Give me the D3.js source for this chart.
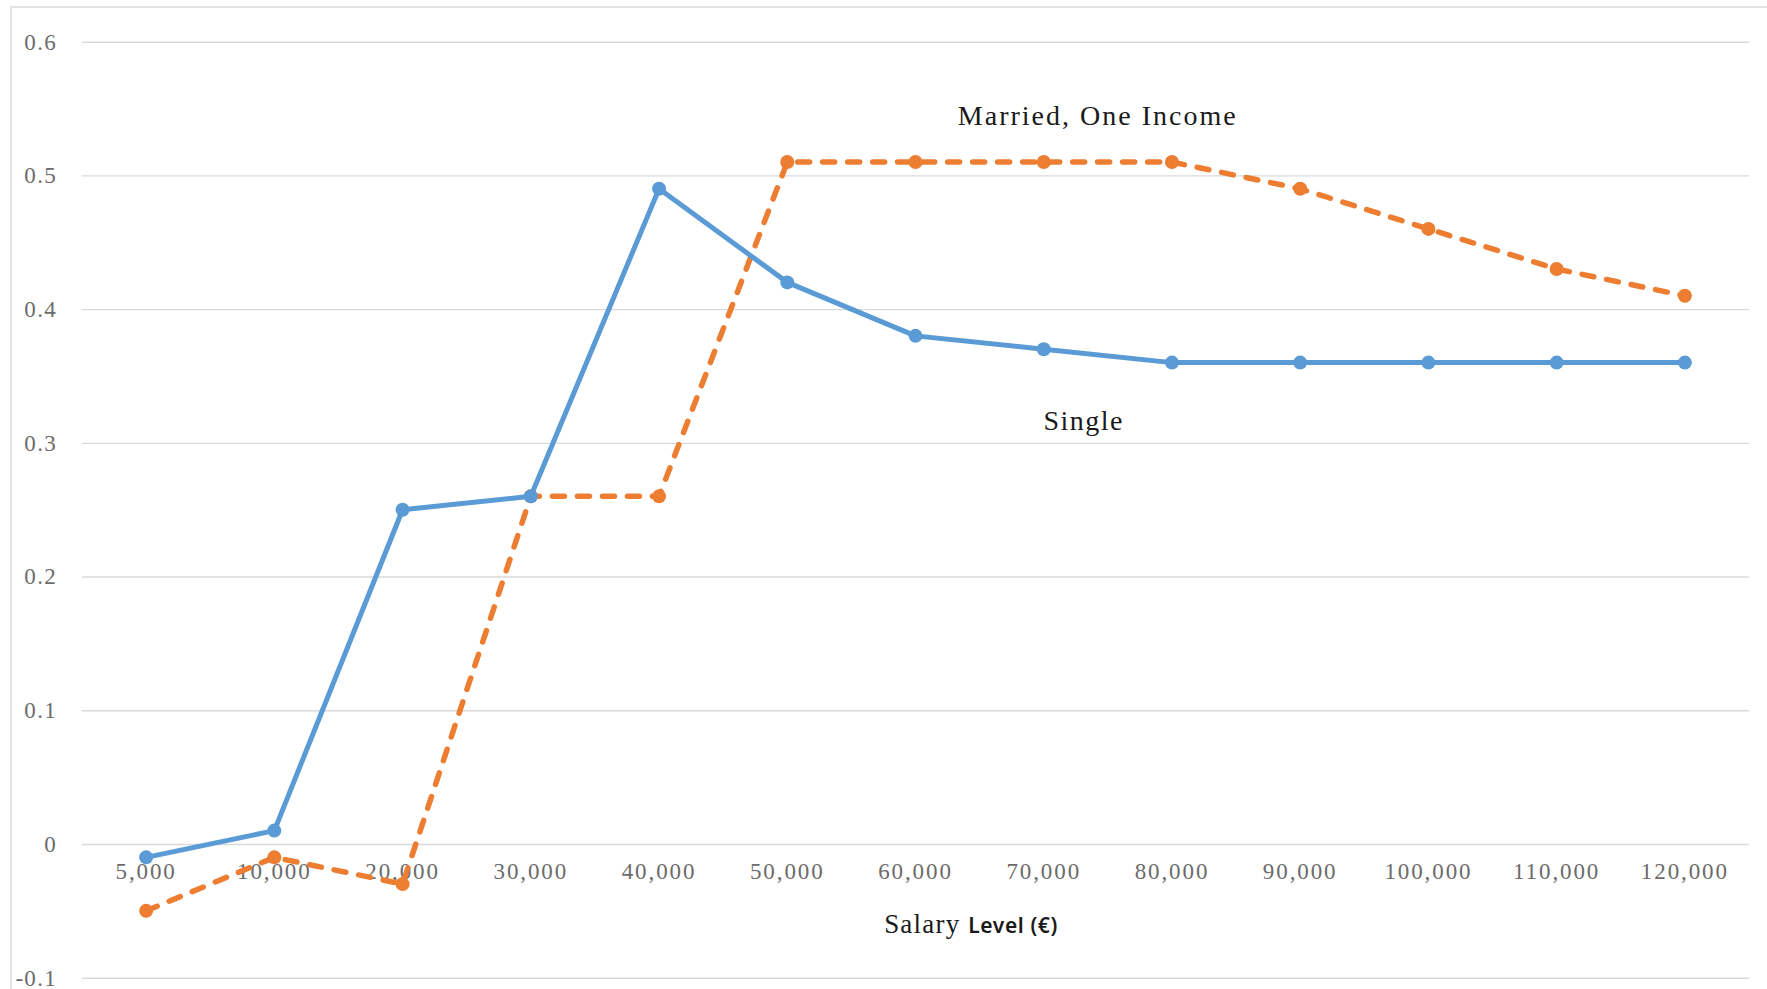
<!DOCTYPE html>
<html>
<head>
<meta charset="utf-8">
<script src="https://cdn.jsdelivr.net/npm/d3@7"></script>
<style>
  body { margin: 0; background: #fff; }
  svg { display: block; }
</style>
</head>
<body>
<div id="chart"></div>
<script>
// salary levels (x categories)
var salaries = ["5,000", "10,000", "20,000", "30,000", "40,000", "50,000", "60,000",
                "70,000", "80,000", "90,000", "100,000", "110,000", "120,000"]

// series values
var single = [-0.01, 0.01, 0.25, 0.26, 0.49, 0.42, 0.38, 0.37, 0.36, 0.36, 0.36, 0.36, 0.36]
var marriedOneIncome = [-0.05, -0.01, -0.03, 0.26, 0.26, 0.51, 0.51, 0.51, 0.51, 0.49, 0.46, 0.43, 0.41]

var yTicks = [-0.1, 0, 0.1, 0.2, 0.3, 0.4, 0.5, 0.6]
var yTickLabels = ["-0.1", "0", "0.1", "0.2", "0.3", "0.4", "0.5", "0.6"]

var W = 1767, H = 989
var plot = {left: 82, right: 1749, top: 41.7, bottom: 977.7}

var svg = d3.select("#chart")
    .append("svg")
    .attr("width", W)
    .attr("height", H)

// chart area border (only top / left visible in the crop)
svg.append("path")
    .attr("d", "M11," + H + "V7H" + W)
    .attr("fill", "none")
    .attr("stroke", "#d9d9d9")
    .attr("stroke-width", 1.5)

var x = d3.scaleBand()
    .domain(salaries)
    .range([plot.left, plot.right])

var y = d3.scaleLinear()
    .domain([-0.1, 0.6])
    .range([plot.bottom, plot.top])

var cx = function(i) { return x(salaries[i]) + x.bandwidth() / 2 }

// y axis + gridlines
var yAxis = svg.append("g")
    .attr("transform", "translate(" + plot.left + ",0)")
    .call(d3.axisLeft(y)
        .tickValues(yTicks)
        .tickSize(-(plot.right - plot.left))
        .tickPadding(25)
        .tickFormat(function(d, i) { return yTickLabels[i] }))

yAxis.select(".domain").remove()
yAxis.selectAll(".tick line")
    .attr("stroke", "#d9d9d9")
    .attr("stroke-width", 1.4)
yAxis.selectAll(".tick text")
    .attr("fill", "#6b6b6b")
    .style("font-family", "'Liberation Serif', serif")
    .style("font-size", "23px")
    .style("letter-spacing", "1.3px")

// x axis labels sit just under the zero line
var xAxis = svg.append("g")
    .attr("transform", "translate(0," + y(0) + ")")
    .call(d3.axisBottom(x).tickSize(0).tickPadding(19))

xAxis.select(".domain").remove()
xAxis.selectAll(".tick text")
    .attr("fill", "#6b6b6b")
    .style("font-family", "'Liberation Serif', serif")
    .style("font-size", "23px")
    .style("letter-spacing", "1.9px")

// axis title: mixed fonts like the original
var title = svg.append("text")
    .attr("x", 971)
    .attr("y", 933)
    .attr("text-anchor", "middle")
    .attr("fill", "#1a1a1a")
title.append("tspan")
    .style("font-family", "'Liberation Serif', serif")
    .style("font-size", "27px")
    .style("letter-spacing", "1.2px")
    .text("Salary ")
title.append("tspan")
    .style("font-family", "'Noto Sans', sans-serif")
    .style("font-size", "21px")
    .style("font-weight", 600)
    .style("letter-spacing", "0.6px")
    .text("Level (€)")

var line = d3.line()
    .x(function(d, i) { return cx(i) })
    .y(function(d) { return y(d) })

// married, one income: dashed orange
svg.append("path")
    .datum(marriedOneIncome)
    .attr("d", line)
    .attr("fill", "none")
    .attr("stroke", "#ed7d31")
    .attr("stroke-width", 5.5)
    .attr("stroke-linecap", "round")
    .attr("stroke-dasharray", "12,13")

svg.append("g")
    .selectAll("circle")
    .data(marriedOneIncome)
    .enter()
    .append("circle")
    .attr("cx", function(d, i) { return cx(i) })
    .attr("cy", function(d) { return y(d) })
    .attr("r", 7)
    .attr("fill", "#ed7d31")

// single: solid blue
svg.append("path")
    .datum(single)
    .attr("d", line)
    .attr("fill", "none")
    .attr("stroke", "#5b9bd5")
    .attr("stroke-width", 5)
    .attr("stroke-linejoin", "round")

svg.append("g")
    .selectAll("circle")
    .data(single)
    .enter()
    .append("circle")
    .attr("cx", function(d, i) { return cx(i) })
    .attr("cy", function(d) { return y(d) })
    .attr("r", 7)
    .attr("fill", "#5b9bd5")

// series labels placed next to the lines
svg.append("text")
    .attr("x", cx(7) + 54)
    .attr("y", y(0.538))
    .attr("text-anchor", "middle")
    .attr("fill", "#1a1a1a")
    .style("font-family", "'Liberation Serif', serif")
    .style("font-size", "28px")
    .style("letter-spacing", "2px")
    .text("Married, One Income")

svg.append("text")
    .attr("x", cx(7) + 40)
    .attr("y", y(0.3096))
    .attr("text-anchor", "middle")
    .attr("fill", "#1a1a1a")
    .style("font-family", "'Liberation Serif', serif")
    .style("font-size", "28px")
    .style("letter-spacing", "1.5px")
    .text("Single")
</script>
</body>
</html>
